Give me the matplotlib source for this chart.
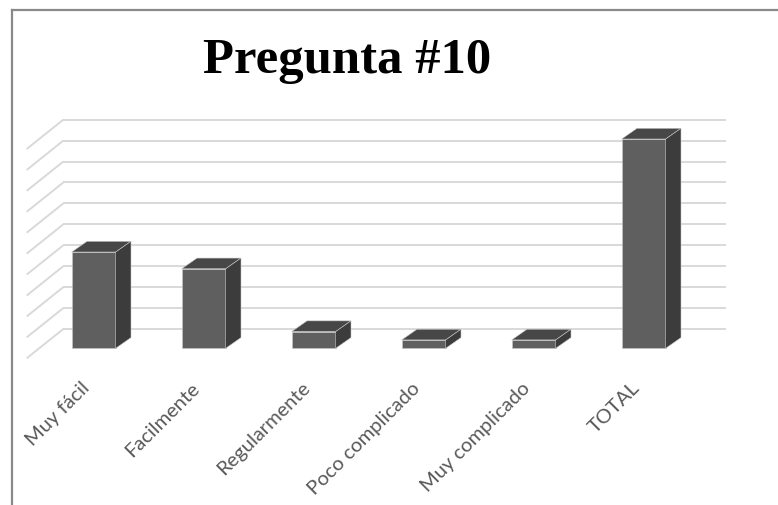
import matplotlib
matplotlib.use("Agg")
import matplotlib.pyplot as plt
from matplotlib.patches import Polygon
from matplotlib.lines import Line2D

# Survey answers for question 10
categories = ["Muy fácil", "Facilmente", "Regularmente", "Poco complicado",
              "Muy complicado", "TOTAL"]
values = [23, 19, 4, 2, 2, 50]
grid_step = 5
grid_max = 50
title = "Pregunta #10"

W, H, DPI = 778, 506, 100
fig = plt.figure(figsize=(W / DPI, H / DPI), dpi=DPI)
ax = fig.add_axes([0, 0, 1, 1])

# pixel layout of the plot area (front plane of the bars)
x0_px, x_step_px = 93.7, 110.0      # first category centre, category spacing
y0_px, y_unit_px = 349.3, 4.186     # zero line, pixels per unit
ax.set_xlim((0 - x0_px) / x_step_px, (W - x0_px) / x_step_px)
ax.set_ylim((y0_px - H) / y_unit_px, y0_px / y_unit_px)
ax.axis("off")

def px_x(p):
    return (p - x0_px) / x_step_px

def px_dy(p):
    return p / y_unit_px

# back wall and floor depth
wall_dy = px_dy(19.3)
wall_x0, wall_x1 = px_x(63.3), px_x(725.7)
floor_x = px_x(26.7)
floor_dy = px_dy(29.3)

grid_color = "#d9d9d9"
for k in range(0, grid_max + grid_step, grid_step):
    yb = k + wall_dy
    ax.plot([wall_x0, wall_x1], [yb, yb], color=grid_color, lw=1.4,
            solid_capstyle="butt", zorder=1)
    ax.plot([floor_x, wall_x0], [yb - floor_dy, yb], color=grid_color, lw=1.4,
            solid_capstyle="butt", zorder=1)

# 3-D looking columns
bar_w = 44.0 / x_step_px
depth_dx = 15.3 / x_step_px
depth_dy = px_dy(10.7)
front_c, top_c, side_c = "#5f5f5f", "#474747", "#3c3c3c"
xs = list(range(len(categories)))
ax.bar(xs, values, width=bar_w, color=front_c, edgecolor="#c8c8c8",
       linewidth=0.4, zorder=3)
for x, v in zip(xs, values):
    l, r = x - bar_w / 2, x + bar_w / 2
    ax.add_patch(Polygon([(l, v), (r, v), (r + depth_dx, v + depth_dy),
                          (l + depth_dx, v + depth_dy)], closed=True,
                         facecolor=top_c, edgecolor="#c8c8c8", lw=0.4, zorder=3))
    ax.add_patch(Polygon([(r, 0), (r, v), (r + depth_dx, v + depth_dy),
                          (r + depth_dx, depth_dy)], closed=True,
                         facecolor=side_c, edgecolor="#c8c8c8", lw=0.4, zorder=3))

# category labels
lab_y = -px_dy(36)
for x, c in zip(xs, categories):
    ax.text(x - 0.06, lab_y, c, rotation=45, rotation_mode="anchor",
            ha="right", va="center", fontsize=14.5, color="#595959",
            family=["Lato", "DejaVu Sans"])

# title
fig.text(347.5 / W, 1 - 73 / H, title, ha="center", va="baseline",
         fontsize=36.5, fontweight="bold", family=["Liberation Serif", "DejaVu Serif"])

# chart frame (top and left edges)
fig.add_artist(Line2D([12 / W, 1], [1 - 11 / H, 1 - 11 / H], color="#898989",
                      lw=1.6, transform=fig.transFigure))
fig.add_artist(Line2D([12 / W, 12 / W], [1 - 11 / H, 0], color="#898989",
                      lw=1.6, transform=fig.transFigure))

fig.savefig("out.png", dpi=DPI)
